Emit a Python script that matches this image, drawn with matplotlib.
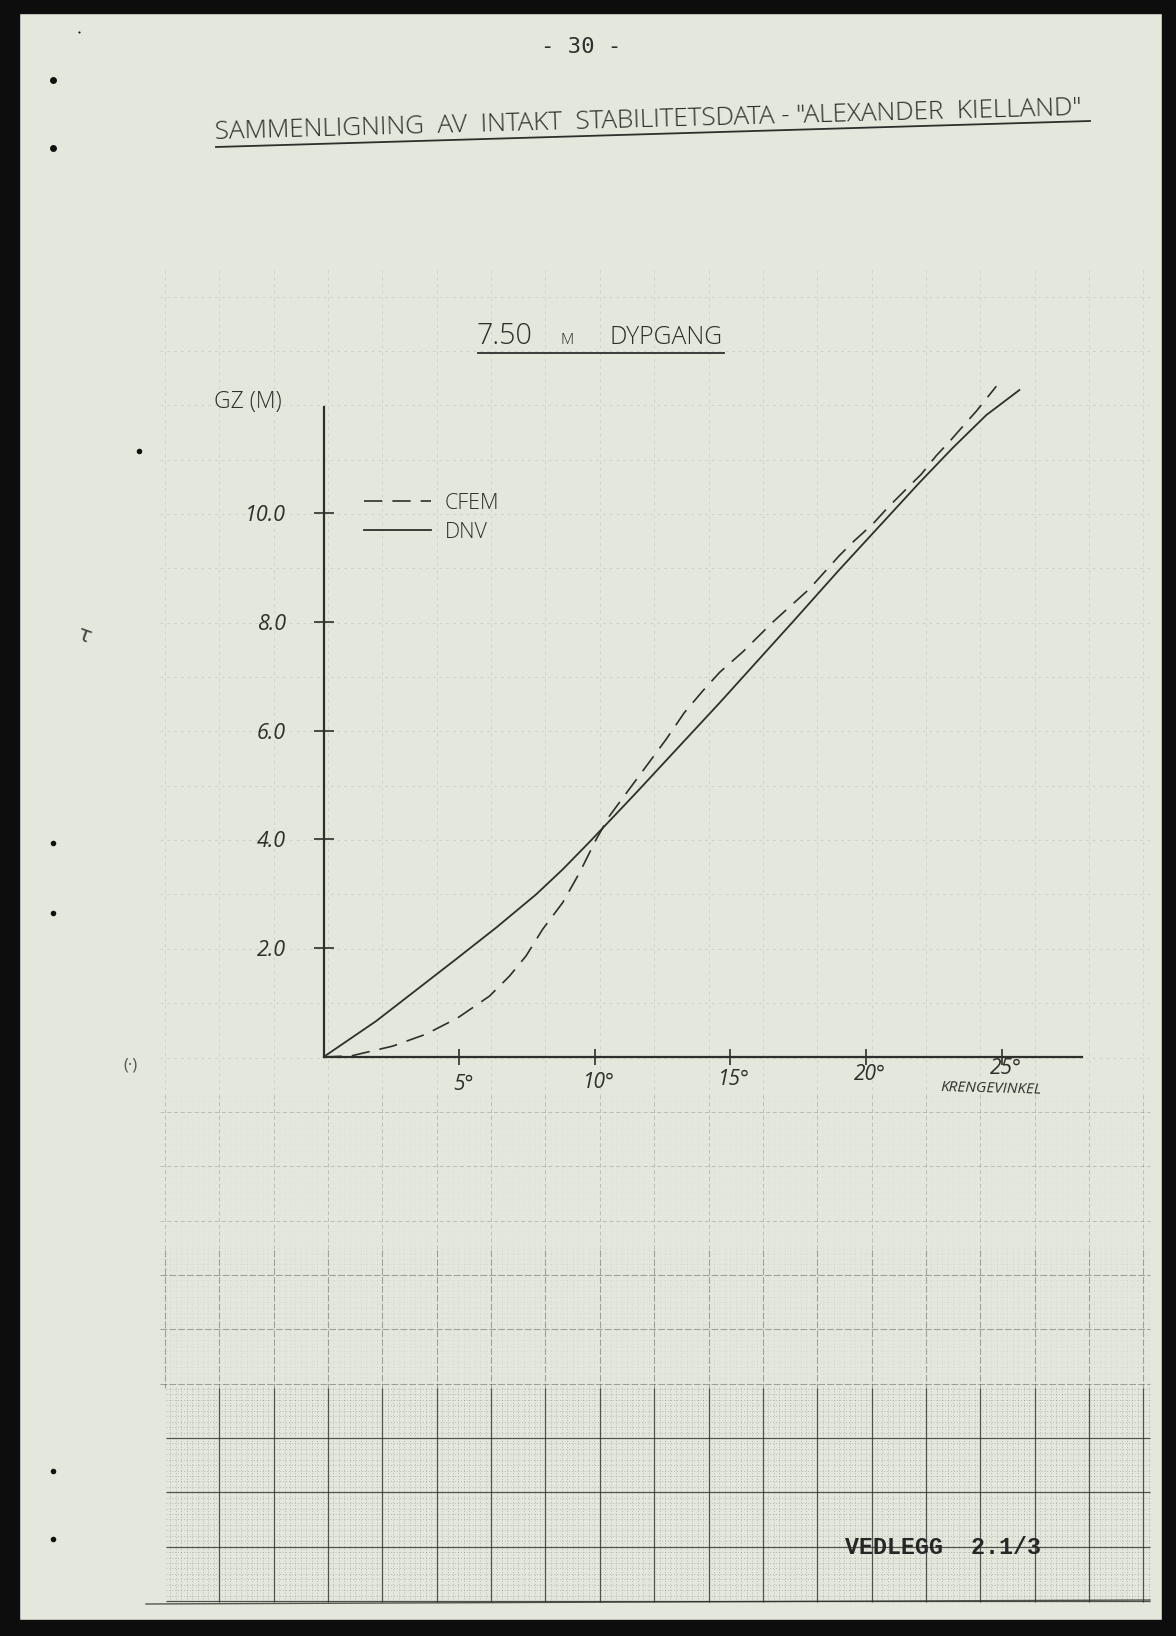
import numpy as np
import matplotlib
matplotlib.use("Agg")
import matplotlib.pyplot as plt
from matplotlib.collections import LineCollection
from matplotlib.patches import Rectangle
from matplotlib.transforms import ScaledTranslation

# ---------------- data ----------------
cfem_angle = [0, 1.02, 2.55, 3.78, 4.95, 6.12, 6.86, 7.47, 8.08, 8.82, 9.44,
              10.05, 10.54, 11.16, 11.77, 12.63, 13.3, 13.98, 14.6, 15.46,
              16.55, 17.9, 19.0, 19.5, 20.25, 20.8, 21.54, 22.03, 22.58,
              23.14, 23.63, 24.06, 24.8]
cfem_gz = [0, 0.02, 0.2, 0.42, 0.72, 1.12, 1.49, 1.86, 2.35, 2.84, 3.39,
           4.0, 4.43, 4.85, 5.26, 5.84, 6.33, 6.73, 7.07, 7.45,
           7.99, 8.6, 9.21, 9.46, 9.8, 10.1, 10.47, 10.71, 11.05,
           11.35, 11.63, 11.87, 12.33]
dnv_angle = [0, 1.94, 4.89, 6.37, 7.84, 8.82, 9.8, 10.79, 11.53, 14.6, 17.3,
             19.0, 21.97, 23.2, 24.43, 25.65]
dnv_gz = [0, 0.66, 1.8, 2.38, 2.99, 3.45, 3.95, 4.47, 4.86, 6.51, 8.0,
          8.95, 10.56, 11.2, 11.8, 12.26]
series_labels = ["CFEM", "DNV"]
x_ticks = [5, 10, 15, 20, 25]
x_tick_labels = ["5°", "10°", "15°", "20°", "25°"]
y_ticks = [2, 4, 6, 8, 10]
y_tick_labels = ["2.0", "4.0", "6.0", "8.0", "10.0"]
page_number = "- 30 -"
main_title = 'SAMMENLIGNING  AV  INTAKT  STABILITETSDATA - "ALEXANDER  KIELLAND"'
sub_title_parts = ["7.50", "M", "DYPGANG"]
y_label = "GZ (M)"
x_label = "KRENGEVINKEL"
appendix = "VEDLEGG  2.1/3"

# ---------------- styling ----------------
W, H = 1176, 1636
PAPER = "#e4e7db"
INK = "#2e2f2c"
HAND = ["Open Sans", "DejaVu Sans"]

fig = plt.figure(figsize=(W / 100, H / 100), dpi=100, facecolor=PAPER)

# background axes in pixel coordinates (paper, graph grid, margins)
bg = fig.add_axes([0, 0, 1, 1], zorder=0)
bg.set_xlim(0, W)
bg.set_ylim(H, 0)
bg.axis("off")
bg.set_facecolor(PAPER)


def grid_band(y0, y1, x0, x1, major_kw, minor_kw=None, step=54.35,
              gx0=165.0, gy0=1601.0):
    xs = gx0 + step * np.arange(0, 30)
    xs = xs[(xs >= x0) & (xs <= x1)]
    ys = gy0 - step * np.arange(0, 40)
    ys = ys[(ys >= y0) & (ys <= y1)]
    segs = [[(x, y0), (x, y1)] for x in xs] + [[(x0, y), (x1, y)] for y in ys]
    bg.add_collection(LineCollection(segs, **major_kw))
    if minor_kw is not None:
        sub = step / 10.0
        mx = gx0 + sub * np.arange(0, 400)
        mx = mx[(mx >= x0) & (mx <= x1)]
        my = gy0 - sub * np.arange(0, 400)
        my = my[(my >= y0) & (my <= y1)]
        msegs = [[(x, y0), (x, y1)] for x in mx] + [[(x0, y), (x1, y)] for y in my]
        bg.add_collection(LineCollection(msegs, **minor_kw))


grid_band(270, 1095, 160, 1150,
          dict(colors="#5f625a", linewidths=0.7, alpha=0.15,
               linestyles=[(0, (3, 4))]))
grid_band(1095, 1250, 160, 1150,
          dict(colors="#4a4c47", linewidths=0.7, alpha=0.25,
               linestyles=[(0, (4, 3))]),
          dict(colors="#4a4c47", linewidths=0.5, alpha=0.06,
               linestyles=[(0, (1, 3))]))
grid_band(1250, 1388, 160, 1150,
          dict(colors="#3f413c", linewidths=0.8, alpha=0.4,
               linestyles=[(0, (6, 2))]),
          dict(colors="#4a4c47", linewidths=0.6, alpha=0.13,
               linestyles=[(0, (1, 3))]))
grid_band(1388, 1602, 166, 1150,
          dict(colors="#2f302d", linewidths=0.9, alpha=0.8),
          dict(colors="#3a3b37", linewidths=0.6, alpha=0.35,
               linestyles=[(0, (1, 2.5))]))
bg.plot([146, 1150], [1604, 1600], color="#2f302d", lw=1.0, alpha=0.8)

# black scan borders
for r in [(0, 0, W, 13), (0, 0, 19, H), (1162, 0, W - 1162, H), (0, 1620, W, H - 1620)]:
    bg.add_patch(Rectangle((r[0], r[1]), r[2], r[3], color="#0d0d0d", zorder=5))

# punch / margin dots
for (px, py, s) in [(53, 80, 5), (53, 148, 5), (139, 451, 4), (53, 843, 4),
                    (53, 913, 4), (53, 1471, 4), (53, 1539, 4), (79, 32, 1.5)]:
    bg.plot(px, py, "o", color="#111111", ms=s, mec="none")
bg.text(130, 1066, "(·)", fontsize=12, color="#555555", ha="center",
        va="center", family=HAND)
bg.text(84, 636, "τ", fontsize=16, color="#444444", ha="center",
        va="center", family=["DejaVu Sans"], rotation=-20)

# ---------------- texts ----------------
def fit_width(t, target):
    fig.canvas.draw()
    ext = t.get_window_extent()
    t.set_fontsize(t.get_fontsize() * target / ext.width)


t_page = bg.text(581, 47, page_number, fontsize=16, color=INK, ha="center",
                 va="center", family=["DejaVu Sans Mono"])

t_title = bg.text(648, 120, main_title, fontsize=18, color=INK, ha="center",
                  va="center", family=HAND, rotation=1.6, fontweight="light")
fit_width(t_title, 866)
bg.plot([216, 1090], [147, 121], color=INK, lw=1.3)

t1 = bg.text(477, 336, sub_title_parts[0], fontsize=26, color=INK, ha="left",
             va="center", family=HAND, fontweight="light")
t2 = bg.text(561, 340, sub_title_parts[1], fontsize=11, color=INK, ha="left",
             va="center", family=HAND, fontweight="light")
t3 = bg.text(610, 338, sub_title_parts[2], fontsize=20, color=INK, ha="left",
             va="center", family=HAND, fontweight="light")
fit_width(t1, 56)
fit_width(t3, 113)
bg.plot([478, 724], [353, 353], color=INK, lw=1.3)

bg.text(214, 402, y_label, fontsize=16.5, color=INK, ha="left", va="center",
        family=HAND, fontweight="light")
bg.text(991, 1089, x_label, fontsize=11, color=INK, ha="center", va="center",
        family=HAND, style="italic", rotation=-1.5)

t_app = bg.text(845, 1547, appendix, fontsize=17, color="#262626", ha="left",
                va="center", family=["Liberation Mono", "DejaVu Sans Mono"],
                fontweight="bold", zorder=6)
fit_width(t_app, 195)

# ---------------- data axes ----------------
ox, oy = 323.5, 1057.0
ppd, ppm = 27.13, 54.4
xmax, ymax = 28.2, 12.6
ax = fig.add_axes([ox / W, (H - oy) / H, xmax * ppd / W, ymax * ppm / H],
                  zorder=2)
ax.set_facecolor("none")
ax.set_xlim(0, xmax)
ax.set_ylim(0, ymax)

l_cfem, = ax.plot(cfem_angle, cfem_gz, color=INK, lw=1.2, dashes=(11, 6),
                  label=series_labels[0], solid_joinstyle="round")
l_dnv, = ax.plot(dnv_angle, dnv_gz, color=INK, lw=1.3,
                 label=series_labels[1], solid_joinstyle="round")

for s in ["top", "right"]:
    ax.spines[s].set_visible(False)
ax.spines["left"].set_bounds(0, 11.95)
ax.spines["bottom"].set_bounds(0, 27.96)
for s in ["left", "bottom"]:
    ax.spines[s].set_color(INK)
    ax.spines[s].set_linewidth(1.6)

ax.set_xticks(x_ticks)
ax.set_xticklabels(x_tick_labels)
ax.set_yticks(y_ticks)
ax.set_yticklabels(y_tick_labels)
ax.tick_params(axis="y", direction="inout", length=14, width=1.2, color=INK,
               pad=20, labelsize=15.5, labelcolor=INK)
ax.tick_params(axis="x", direction="inout", length=12, width=1.2, color=INK,
               pad=6, labelsize=15, labelcolor=INK)
for lab in ax.get_xticklabels() + ax.get_yticklabels():
    lab.set_family(HAND)
    lab.set_style("italic")
# hand-written degree labels climb slightly towards the right
for lab, dy in zip(ax.get_xticklabels(), [0, 2, 5, 10, 16]):
    lab.set_transform(lab.get_transform() +
                      ScaledTranslation(4 / 100, dy / 100, fig.dpi_scale_trans))

leg = ax.legend(handles=[l_cfem, l_dnv], loc="upper left",
                bbox_to_anchor=(364 / W, 1 - 493 / H),
                bbox_transform=fig.transFigure, frameon=False, fontsize=15.5,
                handlelength=3.1, handletextpad=0.65, labelspacing=0.35,
                borderpad=0, borderaxespad=0)
for t in leg.get_texts():
    t.set_family(HAND)
    t.set_fontweight("light")
    t.set_color(INK)

fig.savefig("out.png", dpi=100, facecolor=PAPER)
